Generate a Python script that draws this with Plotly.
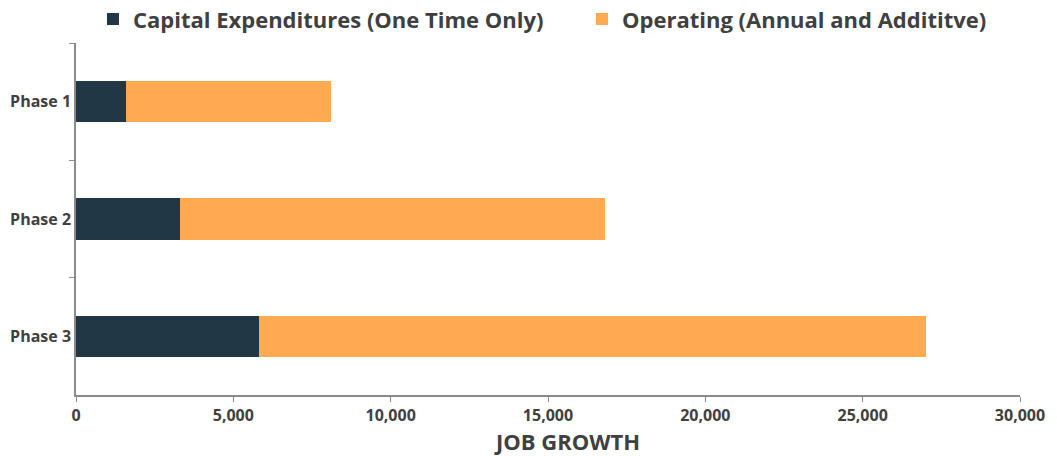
import plotly.graph_objects as go

phases = ["Phase 1", "Phase 2", "Phase 3"]
capital = [1600, 3300, 5800]
operating = [6500, 13500, 21200]
x_ticks = [0, 5000, 10000, 15000, 20000, 25000, 30000]
x_title = "JOB GROWTH"

DARK = "#223746"
ORANGE = "#FFAA50"
TEXT = "#404040"
AXIS = "#8a8a8a"
FONT = "Open Sans"

fig = go.Figure()
fig.add_trace(go.Bar(
    y=phases, x=capital, orientation="h",
    name="Capital Expenditures (One Time Only)",
    marker=dict(color=DARK, line=dict(width=0)),
    legend="legend",
))
fig.add_trace(go.Bar(
    y=phases, x=operating, orientation="h",
    name="Operating (Annual and Addititve)",
    marker=dict(color=ORANGE, line=dict(width=0)),
    legend="legend2",
))

legend_style = dict(
    orientation="h",
    xanchor="left",
    y=1.008, yanchor="bottom",
    font=dict(size=22, family=FONT, weight="bold", color=TEXT),
    itemwidth=30,
    bgcolor="rgba(0,0,0,0)",
)

fig.update_layout(
    barmode="stack",
    bargap=0.65,
    width=1057, height=456,
    margin=dict(l=76, r=37, t=43, b=61, autoexpand=False),
    paper_bgcolor="white",
    plot_bgcolor="white",
    font=dict(family=FONT, color=TEXT),
    showlegend=True,
    legend=dict(x=0.018, **legend_style),
    legend2=dict(x=0.536, **legend_style),
    xaxis=dict(
        range=[0, 30000],
        tickvals=x_ticks,
        tickformat=",",
        showgrid=False,
        zeroline=False,
        showline=True, linecolor=AXIS, linewidth=1.5,
        ticks="outside", ticklen=5, tickcolor=AXIS, tickwidth=1,
        tickfont=dict(size=16, family=FONT, weight="bold", color=TEXT),
    ),
    yaxis=dict(
        categoryorder="array", categoryarray=phases,
        autorange="reversed",
        showgrid=False,
        zeroline=False,
        showline=True, linecolor=AXIS, linewidth=1.5,
        ticks="outside", ticklen=5, tickcolor=AXIS, tickwidth=1,
        tickson="boundaries",
        tickfont=dict(size=16, family=FONT, weight="bold", color=TEXT),
    ),
    annotations=[dict(
        text=x_title,
        xref="paper", yref="paper",
        x=0.52, y=-0.132,
        xanchor="center", yanchor="middle",
        showarrow=False,
        font=dict(size=22, family=FONT, weight="bold", color=TEXT),
    )],
)

fig.write_html("out.html")
